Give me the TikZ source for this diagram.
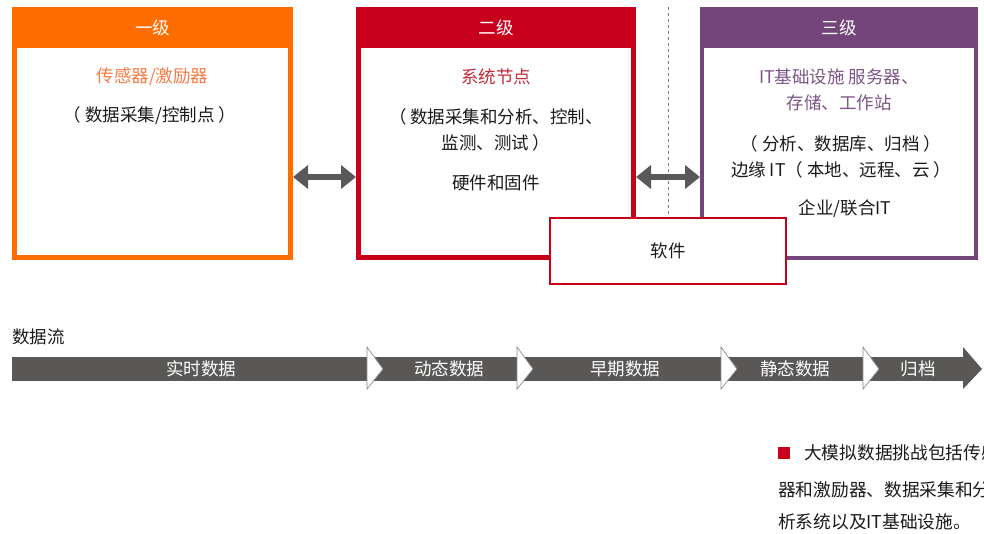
\documentclass[tikz,border=0pt]{standalone}
\usepackage{fontspec}
\setmainfont{Noto Sans CJK SC}
\usetikzlibrary{arrows.meta,calc}
\definecolor{lvone}{HTML}{FF6C00}
\definecolor{lvonet}{HTML}{F47C45}
\definecolor{lvtwo}{HTML}{C8001C}
\definecolor{lvtwot}{HTML}{C42A3A}
\definecolor{lvthree}{HTML}{74457A}
\definecolor{lvthreet}{HTML}{7D5587}
\definecolor{arrgray}{HTML}{595959}
\definecolor{bargray}{HTML}{5A5856}
\definecolor{txt}{HTML}{1A1A1A}
\tikzset{
  body/.style={font=\fontsize{17.5}{26}\selectfont, text=txt, align=center},
  head/.style={font=\fontsize{17.5}{26}\selectfont, text=white},
  barlbl/.style={font=\fontsize{17.5}{26}\selectfont, text=white},
  note/.style={font=\fontsize{17.7}{26}\selectfont, text=txt, anchor=west, inner sep=0pt},
  dblarrow/.style={{Triangle[length=15pt,width=23pt]}-{Triangle[length=15pt,width=23pt]}, line width=6pt, draw=arrgray},
  sep/.style={fill=white, draw=arrgray!70, line width=0.7pt},
}
\begin{document}
\begin{tikzpicture}[x=1pt,y=-1pt]
\useasboundingbox (0,0) rectangle (984,533);
% box 1
\node (b1) [draw=lvone, line width=5pt, fill=white, minimum width=276pt, minimum height=248pt, inner sep=0pt] at (152.5,133.5) {};
\fill[lvone] (12,7) rectangle (293,48);
\node (h1) [head] at (152.5,28) {一级};
\node (t1) [body, text=lvonet] at (152.5,77) {传感器/激励器};
\node (s1) [body] at (150,116) {（ 数据采集/控制点 ）};
% box 2
\node (b2) [draw=lvtwo, line width=5pt, fill=white, minimum width=275pt, minimum height=248pt, inner sep=0pt] at (496,133.5) {};
\fill[lvtwo] (356,7) rectangle (636,48);
\node (h2) [head] at (496,28) {二级};
\node (t2) [body, text=lvtwot] at (496,77) {系统节点};
\node (s2) [body] at (496,130) {（ 数据采集和分析、控制、\\监测、测试 ）};
\node (w2) [body] at (496,183) {硬件和固件};
% box 3
\node (b3) [draw=lvthree, line width=4pt, fill=white, minimum width=274pt, minimum height=249pt, inner sep=0pt] at (839,133.5) {};
\fill[lvthree] (700,7) rectangle (978,48);
\node (h3) [head] at (839,28) {三级};
\node (t3) [body, text=lvthreet] at (839,90) {IT基础设施 服务器、\\存储、工作站};
\node (s3) [body] at (841,156.5) {（ 分析、数据库、归档 ）\\边缘 IT（ 本地、远程、云 ）};
\node (e3) [body] at (845,209) {企业/联合IT};
% dashed divider
\coordinate (dtop) at (668,7);
\coordinate (dbot) at (668,217);
\draw[arrgray!80, dashed, line width=0.6pt] (dtop) -- (dbot);
% double arrows
\coordinate (ay) at (0,177);
\draw[dblarrow] (b1.east |- ay) -- (b2.west |- ay);
\draw[dblarrow] (b2.east |- ay) -- (b3.west |- ay);
% software box
\node (sw) [draw=lvtwo, line width=2.5pt, fill=white, minimum width=236pt, minimum height=66pt, body] at (668,251) {软件};
% data flow
\node (df) [body, anchor=west, inner sep=0pt] at (12,337) {数据流};
\fill[bargray] (12,357) rectangle (963,381);
\fill[bargray] (963,347) -- (982,369) -- (963,389) -- cycle;
\foreach \x in {367,517,721,863}{
  \filldraw[sep] (\x,347) -- (\x+16,369) -- (\x,389) -- cycle;
}
\node (d1) [barlbl] at (201,369) {实时数据};
\node (d2) [barlbl] at (449,369) {动态数据};
\node (d3) [barlbl] at (625,369) {早期数据};
\node (d4) [barlbl] at (795,369) {静态数据};
\node (d5) [barlbl] at (918,369) {归档};
% note (cut off at the right edge, as in the reference)
\begin{scope}
\clip (0,0) rectangle (984,533);
\fill[lvtwo] (778,447) rectangle (790,459);
\node (n1) [note] at (804,453) {大模拟数据挑战包括传感};
\node (n2) [note] at (778,490) {器和激励器、数据采集和分};
\node (n3) [note] at (778,522) {析系统以及IT基础设施。};
\end{scope}
\end{tikzpicture}
\end{document}
